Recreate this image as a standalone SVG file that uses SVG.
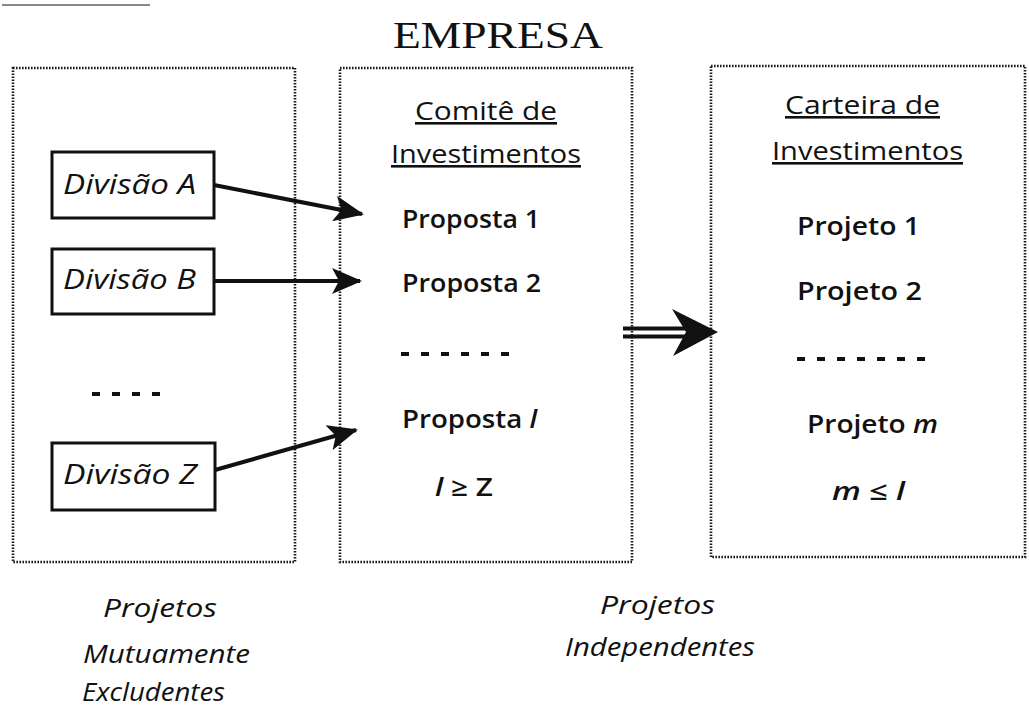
<svg xmlns="http://www.w3.org/2000/svg" width="1029" height="707" viewBox="0 0 1029 707">
  <defs>
    <style>
      .frame { fill: none; stroke: #1a1a1a; stroke-width: 2.6; stroke-dasharray: 1.6 1.4; }
      .div { fill: #fff; stroke: #111; stroke-width: 3; }
      .conn { stroke: #111; stroke-width: 4; fill: none; }
      .title { font-family: "Liberation Serif", serif; font-size: 38px; fill: #111; }
      .head { font-family: "Open Sans", "Noto Sans", sans-serif; font-size: 26px; fill: #111; text-decoration: underline; }
      .item { font-family: "Open Sans", "Noto Sans", sans-serif; font-size: 25px; font-weight: 600; fill: #111; }
      .ital { font-family: "Open Sans", "Noto Sans", sans-serif; font-size: 27px; font-style: italic; font-weight: 500; fill: #111; }
      .note { font-family: "Open Sans", "Noto Sans", sans-serif; font-size: 25px; font-style: italic; fill: #111; }
      .dash { stroke: #111; stroke-width: 4; stroke-dasharray: 8 12; }
    </style>
    <marker id="arr" viewBox="0 0 30 26" refX="28" refY="13" markerWidth="30" markerHeight="26" markerUnits="userSpaceOnUse" orient="auto">
      <path d="M0,0 L30,13 L0,26 L7,13 Z" fill="#111"/>
    </marker>
  </defs>

  <line x1="2" y1="5" x2="150" y2="5" stroke="#888" stroke-width="2"/>

  <text class="title" x="498" y="48" text-anchor="middle" textLength="210" lengthAdjust="spacingAndGlyphs">EMPRESA</text>

  <g id="grupo-divisoes">
    <rect class="frame" x="13" y="68" width="282" height="494"/>
    <line class="dash" x1="92" y1="394" x2="160" y2="394"/>
  </g>

  <g id="divisao-a">
    <rect class="div" x="52" y="152" width="162" height="66"/>
    <text class="ital" x="63" y="194" textLength="133" lengthAdjust="spacingAndGlyphs">Divisão A</text>
  </g>
  <g id="divisao-b">
    <rect class="div" x="52" y="249" width="162" height="65"/>
    <text class="ital" x="63" y="289" textLength="133" lengthAdjust="spacingAndGlyphs">Divisão B</text>
  </g>
  <g id="divisao-z">
    <rect class="div" x="52" y="443" width="163" height="67"/>
    <text class="ital" x="63" y="484" textLength="134" lengthAdjust="spacingAndGlyphs">Divisão Z</text>
  </g>

  <g id="comite">
    <rect class="frame" x="340" y="68" width="292" height="494"/>
    <text class="head" x="415" y="120" textLength="142" lengthAdjust="spacingAndGlyphs">Comitê de</text>
    <text class="head" x="391" y="163" textLength="190" lengthAdjust="spacingAndGlyphs">Investimentos</text>
    <text class="item" x="402" y="228" textLength="138" lengthAdjust="spacingAndGlyphs">Proposta 1</text>
    <text class="item" x="402" y="292" textLength="139" lengthAdjust="spacingAndGlyphs">Proposta 2</text>
    <line class="dash" x1="401" y1="354" x2="512" y2="354"/>
    <text class="item" x="402" y="428" textLength="135" lengthAdjust="spacingAndGlyphs">Proposta <tspan font-style="italic">l</tspan></text>
    <text class="item" x="435" y="496" font-weight="500" textLength="58" lengthAdjust="spacingAndGlyphs"><tspan font-style="italic">l</tspan> ≥ Z</text>
  </g>

  <g id="carteira">
    <rect class="frame" x="711" y="66" width="314" height="491"/>
    <text class="head" x="785" y="114" textLength="155" lengthAdjust="spacingAndGlyphs">Carteira de</text>
    <text class="head" x="772" y="160" textLength="191" lengthAdjust="spacingAndGlyphs">Investimentos</text>
    <text class="item" x="797" y="235" textLength="123" lengthAdjust="spacingAndGlyphs">Projeto 1</text>
    <text class="item" x="797" y="300" textLength="125" lengthAdjust="spacingAndGlyphs">Projeto 2</text>
    <line class="dash" x1="797" y1="359" x2="932" y2="359"/>
    <text class="item" x="807" y="433" textLength="131" lengthAdjust="spacingAndGlyphs">Projeto <tspan font-style="italic">m</tspan></text>
    <text class="item" x="832" y="500" textLength="73" lengthAdjust="spacingAndGlyphs"><tspan font-style="italic">m</tspan> ≤  <tspan font-style="italic">l</tspan></text>
  </g>

  <g id="conectores">
    <line class="conn" x1="214" y1="185" x2="362" y2="214" marker-end="url(#arr)"/>
    <line class="conn" x1="214" y1="281" x2="360" y2="281" marker-end="url(#arr)"/>
    <line class="conn" x1="215" y1="470" x2="356" y2="430" marker-end="url(#arr)"/>
    <g id="seta-dupla">
      <line x1="623" y1="328.5" x2="690" y2="328.5" stroke="#111" stroke-width="4"/>
      <line x1="623" y1="336.5" x2="690" y2="336.5" stroke="#111" stroke-width="4"/>
      <path d="M672,309 L718,332 L673,356 L686,332 Z" fill="#111"/>
    </g>
  </g>

  <g id="legendas">
    <text class="note" x="103" y="617" textLength="114" lengthAdjust="spacingAndGlyphs">Projetos</text>
    <text class="note" x="83" y="663" textLength="167" lengthAdjust="spacingAndGlyphs">Mutuamente</text>
    <text class="note" x="82" y="701" textLength="143" lengthAdjust="spacingAndGlyphs">Excludentes</text>
    <text class="note" x="600" y="614" textLength="115" lengthAdjust="spacingAndGlyphs">Projetos</text>
    <text class="note" x="565" y="656" textLength="190" lengthAdjust="spacingAndGlyphs">Independentes</text>
  </g>
</svg>
